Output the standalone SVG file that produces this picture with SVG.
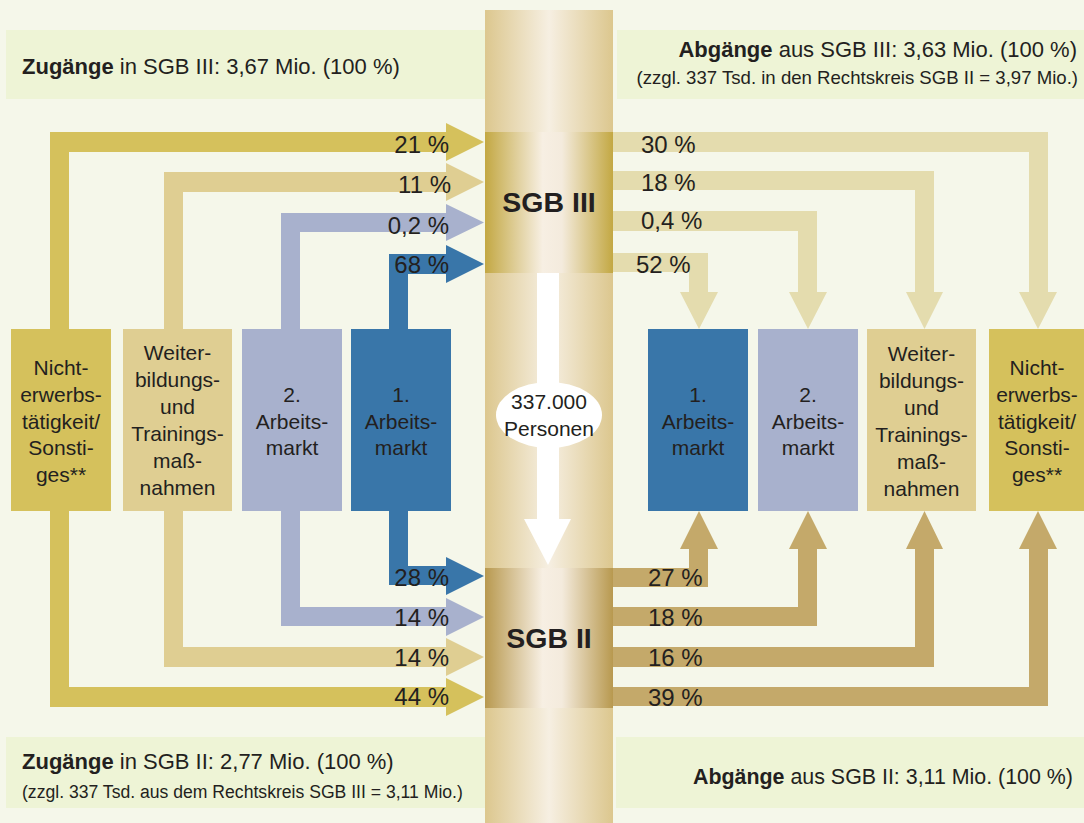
<svg xmlns="http://www.w3.org/2000/svg" width="1084" height="823" viewBox="0 0 1084 823">
<style>
text{font-family:"Liberation Sans",Arial,sans-serif;fill:#231f20}
.pct{font-size:24px}
.lbl{font-size:21px;text-anchor:middle}
.hd{font-size:22px}
.hs{font-size:18px}
.b{font-weight:bold}
.hbox{fill:#eef4d6}
.gold{fill:#d5c15c}
.beige{fill:#dfce92}
.lav{fill:#a8b1cd}
.blue{fill:#3976a9}
.pale{fill:#e4dcae}
.tan{fill:#c4a96a}
</style>
<defs>
<linearGradient id="col" x1="0" x2="1" y1="0" y2="0">
<stop offset="0" stop-color="#dcc78e"/>
<stop offset="0.5" stop-color="#f6efe2"/>
<stop offset="1" stop-color="#dcc78e"/>
</linearGradient>
<linearGradient id="s3" x1="0" x2="1" y1="0" y2="0">
<stop offset="0" stop-color="#c3a843"/>
<stop offset="0.45" stop-color="#f7efe3"/>
<stop offset="0.6" stop-color="#f4ebdd"/>
<stop offset="1" stop-color="#c3a843"/>
</linearGradient>
<linearGradient id="s2" x1="0" x2="1" y1="0" y2="0">
<stop offset="0" stop-color="#b8994f"/>
<stop offset="0.45" stop-color="#f7efe3"/>
<stop offset="0.6" stop-color="#f4ebdd"/>
<stop offset="1" stop-color="#b8994f"/>
</linearGradient>
</defs>
<rect width="1084" height="823" fill="#f5f7ea"/>
<g id="headers">
<g id="hdr-zugang-sgb3">
<rect class="hbox" x="6" y="30" width="479" height="69"/>
<text class="hd" x="22" y="74"><tspan class="b">Zugänge</tspan> in SGB III: 3,67 Mio. (100 %)</text>
</g>
<g id="hdr-abgang-sgb3">
<rect class="hbox" x="617" y="30" width="467" height="69"/>
<text class="hd" x="1077" y="57" text-anchor="end" font-size="21.7"><tspan class="b">Abgänge</tspan> aus SGB III: 3,63 Mio. (100 %)</text>
<text class="hs" x="1078" y="84" text-anchor="end" style="font-size:18.6px">(zzgl. 337 Tsd. in den Rechtskreis SGB II = 3,97 Mio.)</text>
</g>
<g id="hdr-zugang-sgb2">
<rect class="hbox" x="6" y="737" width="479" height="71"/>
<text class="hd" x="22" y="769"><tspan class="b">Zugänge</tspan> in SGB II: 2,77 Mio. (100 %)</text>
<text class="hs" x="22" y="798" style="font-size:17.6px">(zzgl. 337 Tsd. aus dem Rechtskreis SGB III = 3,11 Mio.)</text>
</g>
<g id="hdr-abgang-sgb2">
<rect class="hbox" x="616" y="737" width="468" height="71"/>
<text class="hd" x="1073" y="784" text-anchor="end" style="font-size:21.4px"><tspan class="b">Abgänge</tspan> aus SGB II: 3,11 Mio. (100 %)</text>
</g>
</g>
<rect id="column" x="485" y="10" width="128" height="813" fill="url(#col)"/>
<g id="connectors">
<path class="gold" d="M50,329 V132 H446 V123 L484,142 L446,161 V152 H69 V329 Z"/>
<path class="beige" d="M164,329 V172 H446 V163 L484,182 L446,201 V192 H183 V329 Z"/>
<path class="lav" d="M281,329 V213 H446 V204 L484,222.5 L446,241 V232 H300 V329 Z"/>
<path class="blue" d="M389,329 V254 H446 V245 L484,264 L446,283 V274 H408 V329 Z"/>
<path class="blue" d="M389,511 V585 H446 V595 L484,576 L446,557 V566 H408 V511 Z"/>
<path class="lav" d="M281,511 V626 H446 V636 L484,617 L446,598 V607 H300 V511 Z"/>
<path class="beige" d="M164,511 V667 H446 V676 L484,657 L446,638 V647 H183 V511 Z"/>
<path class="gold" d="M50,511 V707 H446 V716 L484,697 L446,678 V687 H69 V511 Z"/>
<path class="pale" d="M613,132 H1048 V292 H1057 L1038,329 L1019,292 H1029 V152 H613 Z"/>
<path class="pale" d="M613,171 H934 V292 H943 L924.5,329 L906,292 H915 V190 H613 Z"/>
<path class="pale" d="M613,211 H817 V292 H827 L808,329 L789,292 H798 V231 H613 Z"/>
<path class="pale" d="M613,253 H708 V292 H718 L699,329 L680,292 H689 V272 H613 Z"/>
<path class="tan" d="M613,587 H708 V549 H718 L699,511 L680,549 H689 V568 H613 Z"/>
<path class="tan" d="M613,626 H817 V549 H827 L808,511 L789,549 H798 V607 H613 Z"/>
<path class="tan" d="M613,667 H934 V549 H943 L924.5,511 L906,549 H915 V647 H613 Z"/>
<path class="tan" d="M613,706 H1048 V549 H1057 L1038,511 L1019,549 H1029 V687 H613 Z"/>
<path id="transfer" fill="#ffffff" d="M537,273 H559 V519 H571 L548,565 L524,519 H537 Z"/>
</g>
<g id="sgb3">
<rect x="485" y="132" width="128" height="141" fill="url(#s3)"/>
<text x="549" y="212" font-size="28.5" font-weight="bold" text-anchor="middle">SGB III</text>
</g>
<g id="sgb2">
<rect x="485" y="568" width="128" height="140" fill="url(#s2)"/>
<text x="549" y="648" font-size="28.5" font-weight="bold" text-anchor="middle">SGB II</text>
</g>
<g id="transfer-label">
<ellipse cx="549" cy="415" rx="53" ry="33" fill="#ffffff"/>
<text class="lbl" x="549" y="409" font-size="20">337.000</text>
<text class="lbl" x="549" y="436" font-size="20">Personen</text>
</g>
<g id="pct-labels" class="pct">
<text x="449" y="153" text-anchor="end">21 %</text>
<text x="451" y="193" text-anchor="end">11 %</text>
<text x="449" y="234" text-anchor="end">0,2 %</text>
<text x="449" y="273" text-anchor="end">68 %</text>
<text x="449" y="586" text-anchor="end">28 %</text>
<text x="449" y="626" text-anchor="end">14 %</text>
<text x="449" y="666" text-anchor="end">14 %</text>
<text x="449" y="705" text-anchor="end">44 %</text>
<text x="641" y="153">30 %</text>
<text x="641" y="191">18 %</text>
<text x="641" y="229">0,4 %</text>
<text x="636" y="273">52 %</text>
<text x="648" y="586">27 %</text>
<text x="648" y="626">18 %</text>
<text x="648" y="666">16 %</text>
<text x="648" y="706">39 %</text>
</g>
<g id="left-nicht">
<rect class="gold" x="11" y="329" width="100" height="182"/>
<text class="lbl" x="61" y="375">Nicht-</text>
<text class="lbl" x="61" y="402">erwerbs-</text>
<text class="lbl" x="61" y="429">tätigkeit/</text>
<text class="lbl" x="61" y="455">Sonsti-</text>
<text class="lbl" x="61" y="482">ges**</text>
</g>
<g id="left-weiter">
<rect class="beige" x="123" y="329" width="109" height="182"/>
<text class="lbl" x="177.5" y="360">Weiter-</text>
<text class="lbl" x="177.5" y="387">bildungs-</text>
<text class="lbl" x="177.5" y="414">und</text>
<text class="lbl" x="177.5" y="441">Trainings-</text>
<text class="lbl" x="177.5" y="468">maß-</text>
<text class="lbl" x="177.5" y="495">nahmen</text>
</g>
<g id="left-am2">
<rect class="lav" x="242" y="329" width="100" height="182"/>
<text class="lbl" x="292" y="402">2.</text>
<text class="lbl" x="292" y="429">Arbeits-</text>
<text class="lbl" x="292" y="455">markt</text>
</g>
<g id="left-am1">
<rect class="blue" x="351" y="329" width="100" height="182"/>
<text class="lbl" x="401" y="402">1.</text>
<text class="lbl" x="401" y="429">Arbeits-</text>
<text class="lbl" x="401" y="455">markt</text>
</g>
<g id="right-am1">
<rect class="blue" x="648" y="329" width="100" height="182"/>
<text class="lbl" x="698" y="402">1.</text>
<text class="lbl" x="698" y="429">Arbeits-</text>
<text class="lbl" x="698" y="455">markt</text>
</g>
<g id="right-am2">
<rect class="lav" x="758" y="329" width="100" height="182"/>
<text class="lbl" x="808" y="402">2.</text>
<text class="lbl" x="808" y="429">Arbeits-</text>
<text class="lbl" x="808" y="455">markt</text>
</g>
<g id="right-weiter">
<rect class="beige" x="867" y="329" width="109" height="182"/>
<text class="lbl" x="921.5" y="361">Weiter-</text>
<text class="lbl" x="921.5" y="388">bildungs-</text>
<text class="lbl" x="921.5" y="415">und</text>
<text class="lbl" x="921.5" y="442">Trainings-</text>
<text class="lbl" x="921.5" y="469">maß-</text>
<text class="lbl" x="921.5" y="496">nahmen</text>
</g>
<g id="right-nicht">
<rect class="gold" x="989" y="329" width="100" height="182"/>
<text class="lbl" x="1037" y="375">Nicht-</text>
<text class="lbl" x="1037" y="402">erwerbs-</text>
<text class="lbl" x="1037" y="429">tätigkeit/</text>
<text class="lbl" x="1037" y="455">Sonsti-</text>
<text class="lbl" x="1037" y="482">ges**</text>
</g>
</svg>
